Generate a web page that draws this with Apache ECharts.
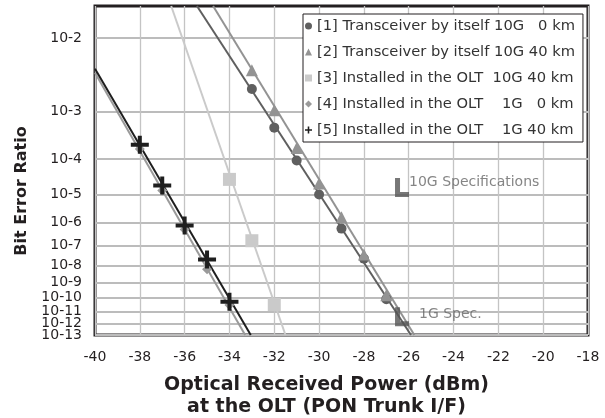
<!DOCTYPE html>
<html>
<head>
<meta charset="utf-8">
<script src="https://cdn.jsdelivr.net/npm/echarts@6/dist/echarts.min.js"></script>
<style>
html, body { margin: 0; padding: 0; background: #fff; }
#chart { width: 605px; height: 418px; }
</style>
</head>
<body>
<div id="chart"></div>
<script>
// y ticks (BER) and their labels
const berTicks = [1e-2, 1e-3, 1e-4, 1e-5, 1e-6, 1e-7, 1e-8, 1e-9, 1e-10, 1e-11, 1e-12, 1e-13];
const berTickLabels = ['10-2', '10-3', '10-4', '10-5', '10-6', '10-7', '10-8', '10-9', '10-10', '10-11', '10-12', '10-13'];
const berTop = 0.02;

// legend names, spaced as in the original
const seriesNames = [
    '[1] Transceiver by itself 10G   0 km',
    '[2] Transceiver by itself 10G 40 km',
    '[3] Installed in the OLT  10G 40 km',
    '[4] Installed in the OLT    1G   0 km',
    '[5] Installed in the OLT    1G 40 km'
];

// measured points
const power1 = [-33, -32, -31, -30, -29, -28, -27];
const ber1 = [2.3e-3, 5e-4, 9.3e-5, 1e-5, 5.7e-7, 2.3e-8, 8e-11];
const power2 = [-33, -32, -31, -30, -29, -28, -27];
const ber2 = [4.2e-3, 1.05e-3, 1.85e-4, 2.2e-5, 1.6e-6, 3.7e-8, 1.5e-10];
const power3 = [-34, -33, -32];
const ber3 = [2.9e-5, 1.7e-7, 3.3e-11];
const power4 = [-38, -37, -36, -35, -34];
const ber4 = [1.75e-4, 1.35e-5, 5.2e-7, 6.2e-9, 3e-11];
const power5 = [-38, -37, -36, -35, -34];
const ber5 = [2.2e-4, 1.9e-5, 7.6e-7, 2.1e-8, 5.3e-11];

// fitted lines (both ends)
const fitPower = [[-35.45, -25.9], [-34.73, -25.75], [-36.6, -31.5], [-40, -33.3], [-40, -33.05]];
const fitBer = [[0.02, 1e-13], [0.02, 1e-13], [0.02, 1e-13], [3.9e-3, 1e-13], [4.4e-3, 1e-13]];

// spec markers
const specPower = [-26.5, -26.5];
const specBer = [1e-5, 1e-12];
const specLabels = ['10G Specifications', '1G Spec.'];

const colors = ['#5f5f5f', '#939393', '#cacaca', '#9a9a9a', '#1e1e1e'];
const plusPath = 'path://M7,0 H11 V7 H18 V11 H11 V18 H7 V11 H0 V7 H7 Z';
const symbols = ['circle', 'triangle', 'rect', 'diamond', plusPath];
const symbolSizes = [10, 12, 13, 10, 18];

// inverse normal cdf (Acklam)
function normInv(p) {
    const a = [-3.969683028665376e+01, 2.209460984245205e+02, -2.759285104469687e+02, 1.383577518672690e+02, -3.066479806614716e+01, 2.506628277459239e+00];
    const b = [-5.447609879822406e+01, 1.615858368580409e+02, -1.556989798598866e+02, 6.680131188771972e+01, -1.328068155288572e+01];
    const c = [-7.784894002430293e-03, -3.223964580411365e-01, -2.400758277161838e+00, -2.549732539343734e+00, 4.374664141464968e+00, 2.938163982698783e+00];
    const d = [7.784695709041462e-03, 3.224671290700398e-01, 2.445134137142996e+00, 3.754408661907416e+00];
    const plow = 0.02425;
    if (p < plow) {
        const q = Math.sqrt(-2 * Math.log(p));
        return (((((c[0] * q + c[1]) * q + c[2]) * q + c[3]) * q + c[4]) * q + c[5]) /
            ((((d[0] * q + d[1]) * q + d[2]) * q + d[3]) * q + 1);
    }
    const q = p - 0.5, r = q * q;
    return (((((a[0] * r + a[1]) * r + a[2]) * r + a[3]) * r + a[4]) * r + a[5]) * q /
        (((((b[0] * r + b[1]) * r + b[2]) * r + b[3]) * r + b[4]) * r + 1);
}
// BER -> log10(Q) axis value
function T(ber) { return Math.log10(-normInv(ber)); }

const powers = [power1, power2, power3, power4, power5];
const bers = [ber1, ber2, ber3, ber4, ber5];
const tickVals = berTicks.map(T);
// label order: keep the crowded bottom labels away from the first/last slots,
// so the min/max overlap check does not drop any of them
const labelOrder = [0, 11, 10, 9, 8, 7, 6, 5, 4, 3, 1, 2];
const labelVals = labelOrder.map(k => tickVals[k]);

let myChart = echarts.init(document.getElementById('chart'));
let series = [];

seriesNames.forEach((name, i) => {
    series.push({
        name: name,
        type: 'scatter',
        symbol: symbols[i],
        symbolSize: symbolSizes[i],
        itemStyle: { color: colors[i], opacity: 1 },
        z: 3 + i,
        data: powers[i].map((p, k) => [p, T(bers[i][k])])
    });
});
seriesNames.forEach((name, i) => {
    series.push({
        name: name,
        type: 'line',
        symbol: 'none',
        lineStyle: { color: colors[i], width: 2 },
        z: 2 + i,
        data: fitPower[i].map((p, k) => [p, T(fitBer[i][k])])
    });
});
const specOffsets = [[-4, -5], [6, -2]];
series.push({
    name: 'spec',
    type: 'scatter',
    symbol: 'path://M0,0 H5 V14 H14 V19 H0 Z',
    symbolSize: [14, 19],
    symbolOffset: [4.5, -7],
    itemStyle: { color: '#555555' },
    z: 10,
    label: {
        show: true,
        position: 'right',
        distance: 4,
        color: '#666666',
        fontFamily: 'DejaVu Sans',
        fontSize: 14,
        formatter: (p) => specLabels[p.dataIndex]
    },
    data: specPower.map((p, k) => ({ value: [p, T(specBer[k])], label: { offset: specOffsets[k] } }))
});

let option = {
    animation: false,
    backgroundColor: '#ffffff',
    textStyle: { fontFamily: 'DejaVu Sans' },
    grid: {
        left: 95, right: 17, top: 6, bottom: 83,
        outerBoundsMode: 'none',
        show: true,
        borderColor: '#231f20',
        borderWidth: 3,
        backgroundColor: '#ffffff'
    },
    graphic: [{
        type: 'text',
        x: 22,
        y: 191,
        rotation: Math.PI / 2,
        style: {
            text: 'Bit Error Ratio',
            fontFamily: 'DejaVu Sans',
            fontSize: 16,
            fontWeight: 'bold',
            fill: '#231f20',
            align: 'center',
            verticalAlign: 'middle'
        }
    }],
    legend: {
        data: seriesNames.map((n, i) => ({ name: n, icon: symbols[i] })),
        orient: 'vertical',
        left: 303,
        top: 14,
        padding: [4, 8, 4, 2],
        itemGap: 10,
        itemWidth: 7,
        itemHeight: 7,
        backgroundColor: '#ffffff',
        borderColor: '#231f20',
        borderWidth: 1,
        borderRadius: 0,
        textStyle: {
            color: '#333333',
            fontSize: 14.7,
            lineHeight: 16
        }
    },
    xAxis: {
        type: 'value',
        min: -40,
        max: -18,
        interval: 2,
        name: 'Optical Received Power (dBm)\nat the OLT (PON Trunk I/F)',
        nameLocation: 'middle',
        nameGap: 39,
        nameTextStyle: {
            fontFamily: 'DejaVu Sans',
            fontSize: 19,
            fontWeight: 'bold',
            color: '#231f20',
            lineHeight: 22,
            padding: [0, 30, 0, 0]
        },
        axisLine: { show: false },
        axisTick: { show: false },
        axisLabel: { fontSize: 14, color: '#231f20', margin: 15 },
        splitLine: { show: true, lineStyle: { color: '#c4c4c4', width: 1.3 } }
    },
    yAxis: {
        type: 'value',
        inverse: true,
        min: T(berTop),
        max: T(1e-13),
        axisLine: { show: false },
        axisTick: { show: false, customValues: tickVals },
        axisLabel: {
            customValues: labelVals,
            hideOverlap: false,
            fontSize: 14,
            lineHeight: 10,
            color: '#231f20',
            margin: 13,
            formatter: (v) => {
                let best = 0;
                tickVals.forEach((t, k) => { if (Math.abs(t - v) < Math.abs(tickVals[best] - v)) best = k; });
                return berTickLabels[best];
            }
        },
        splitLine: { show: true, lineStyle: { color: '#bcbcbc', width: 2 } }
    },
    series: series
};

option && myChart.setOption(option);
</script>
</body>
</html>
